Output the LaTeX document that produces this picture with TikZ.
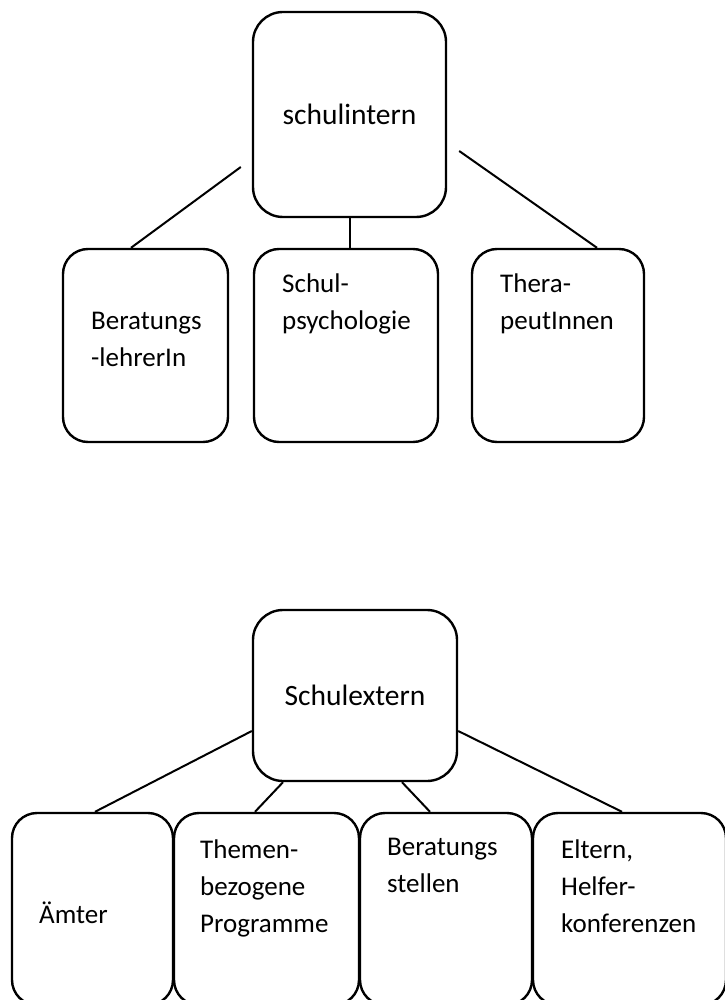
\documentclass[tikz,border=0pt]{standalone}
\usepackage{fontspec}
\setmainfont{Carlito}
\usetikzlibrary{calc}
\tikzset{
    box/.style = {
        draw,
        line width=2.4pt,
        rectangle,
        rounded corners=25pt,
        inner sep=0pt,
        },
    head box/.style = {
        box,
        rounded corners=30pt,
        font=\fontsize{29.5pt}{37pt}\selectfont,
        },
    label text/.style = {
        anchor=base west,
        align=left,
        inner sep=0pt,
        font=\fontsize{27pt}{37pt}\selectfont,
        },
    link/.style = {
        line width=2pt,
        },
}
\begin{document}
\begin{tikzpicture}[x=1pt, y=-1pt]
            \useasboundingbox (0,0) rectangle (724,1000);
            % schulintern
            \node[head box, minimum width=193pt, minimum height=205pt] (intern) at (349.5,114.5) {schulintern};
            \node[box, minimum width=165pt, minimum height=193pt] (berlehrer) at (145.5,345.5) {};
            \node[box, minimum width=184pt, minimum height=193pt] (psych) at (346,345.5) {};
            \node[box, minimum width=172pt, minimum height=193pt] (thera) at (558,345.5) {};

            % anchor = baseline of the last line
            \node[label text] (t berlehrer) at (91,366) {Beratungs\\-lehrerIn};
            \node[label text] (t psych) at (282,329) {Schul-\\psychologie};
            \node[label text] (t thera) at (500,329) {Thera-\\peutInnen};

            \draw[link] ($(intern.west)+(-11,52.5)$) -- ($(berlehrer.north)+(-14.5,0)$);
            \draw[link] (intern.south) -- (intern.south |- psych.north);
            \draw[link] ($(intern.east)+(12,36.5)$) -- ($(thera.north)+(39,0)$);

            % Schulextern
            \node[head box, minimum width=204pt, minimum height=171pt] (extern) at (355,695.5) {Schulextern};
            \node[box, minimum width=161pt, minimum height=192pt] (aemter) at (92.5,909) {};
            \node[box, minimum width=185pt, minimum height=192pt] (themen) at (266.5,909) {};
            \node[box, minimum width=172pt, minimum height=192pt] (bstellen) at (446,909) {};
            \node[box, minimum width=193pt, minimum height=192pt] (eltern) at (629.5,909) {};

            \node[label text] (t aemter) at (39,923) {Ämter};
            \node[label text] (t themen) at (200,932) {Themen-\\bezogene\\Programme};
            \node[label text] (t bstellen) at (387,892) {Beratungs\\stellen};
            \node[label text] (t eltern) at (561,932) {Eltern,\\Helfer-\\konferenzen};

            \draw[link] ($(extern.west)+(0,35.5)$) -- ($(aemter.north)+(2.5,0)$);
            \draw[link] ($(extern.south)+(-72,0)$) -- ($(themen.north)+(-11.5,0)$);
            \draw[link] ($(extern.south)+(47,0)$) -- ($(bstellen.north)+(-16,0)$);
            \draw[link] ($(extern.east)+(0,35.5)$) -- ($(eltern.north)+(-7.5,0)$);
        \end{tikzpicture}
\end{document}
